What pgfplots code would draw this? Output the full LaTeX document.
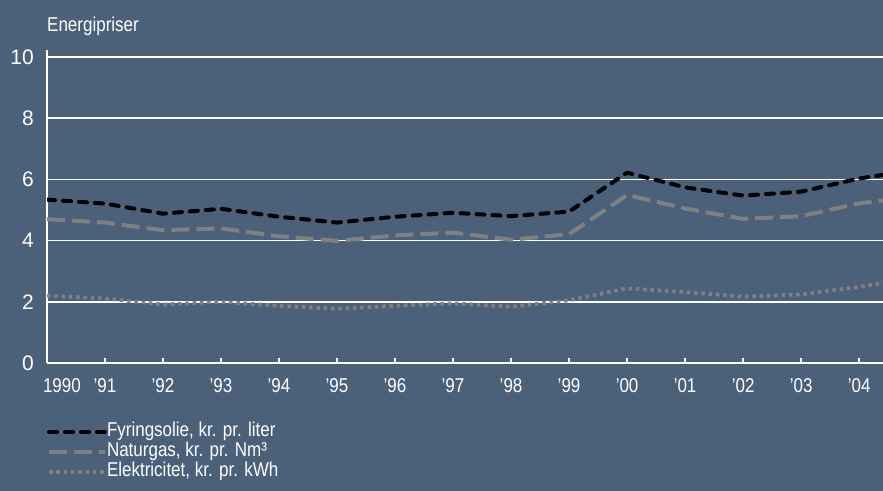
\documentclass[border=0pt]{standalone}
\usepackage{fontspec}
\setmainfont{Liberation Sans}[FakeStretch=0.85]
\newfontfamily\yfont{Liberation Sans}
\usepackage{pgfplots}
\pgfplotsset{compat=1.18}
\definecolor{bgc}{RGB}{75,96,121}
\definecolor{lgray}{RGB}{128,128,128}
\begin{document}
\begin{tikzpicture}
\fill[bgc] (-47bp,-128bp) rectangle (836bp,363bp);
\begin{axis}[
  name=ax,
  scale only axis,
  width=836bp, height=313bp,
  xmin=1990, xmax=2004.41,
  ymin=0, ymax=10.23,
  axis x line=bottom, axis y line=left,
  axis line style={white, line width=1.5bp, -},
  xtick={1990,...,2004},
  xticklabels={\makebox[0pt][l]{\hspace{-4bp}1990},'91,'92,'93,'94,'95,'96,'97,'98,'99,'00,'01,'02,'03,'04},
  xticklabel style={font=\fontsize{20bp}{24bp}\selectfont, text=white, anchor=north, inner sep=0pt, yshift=-15bp},
  x tick style={white, line width=1.5bp},
  tick align=inside,
  major tick length=5bp,
  ytick={0,2,4,6,8,10},
  y tick style={draw=none},
  yticklabel style={font=\yfont\fontsize{21bp}{24bp}\selectfont, text=white, anchor=east, inner sep=0pt, xshift=-13bp},
  /pgf/number format/assume math mode=true,
  ymajorgrids,
  major grid style={white, line width=1.5bp},
  legend style={at={(0,-59/313)}, anchor=north west, draw=none, fill=none, inner sep=0pt, outer sep=0pt,
    text=white, font=\fontsize{20bp}{24bp}\selectfont, row sep=0pt,
    nodes={inner sep=0pt, text height=14bp, text depth=6bp}},
  legend cell align=left,
  legend image code/.code={\draw[#1] (0bp,0bp) -- (56bp,0bp);},
]
\addplot[black, line width=4bp, line cap=round, line join=round, dash pattern=on 8bp off 8bp] table {
x y
1990 5.34
1991 5.21
1992 4.88
1993 5.04
1994 4.78
1995 4.59
1996 4.78
1997 4.91
1998 4.80
1999 4.95
2000 6.22
2001 5.74
2002 5.47
2003 5.60
2004 6.03
2004.45 6.16
};
\addlegendentry{Fyringsolie, kr. pr. liter}
\addplot[lgray, line width=4bp, line join=round, dash pattern=on 18bp off 7bp] table {
x y
1990 4.70
1991 4.59
1992 4.34
1993 4.40
1994 4.14
1995 3.99
1996 4.17
1997 4.26
1998 4.03
1999 4.21
2000 5.49
2001 5.05
2002 4.71
2003 4.80
2004 5.22
2004.45 5.32
};
\addlegendentry{Naturgas, kr. pr. Nm³}
\addplot[lgray, line width=3.8bp, dash pattern=on 3.5bp off 3.8bp] table {
x y
1990 2.20
1991 2.11
1992 1.91
1993 2.00
1994 1.87
1995 1.77
1996 1.87
1997 1.95
1998 1.84
1999 2.05
2000 2.44
2001 2.32
2002 2.17
2003 2.24
2004 2.49
2004.45 2.62
};
\addlegendentry{Elektricitet, kr. pr. kWh}
\end{axis}
\node[anchor=base west, inner sep=0pt, text=white, font=\fontsize{20bp}{24bp}\selectfont] at ([yshift=18bp]ax.north west) {Energipriser};
\pgfresetboundingbox
\path (-47bp,-128bp) rectangle (836bp,363bp);
\end{tikzpicture}
\end{document}
